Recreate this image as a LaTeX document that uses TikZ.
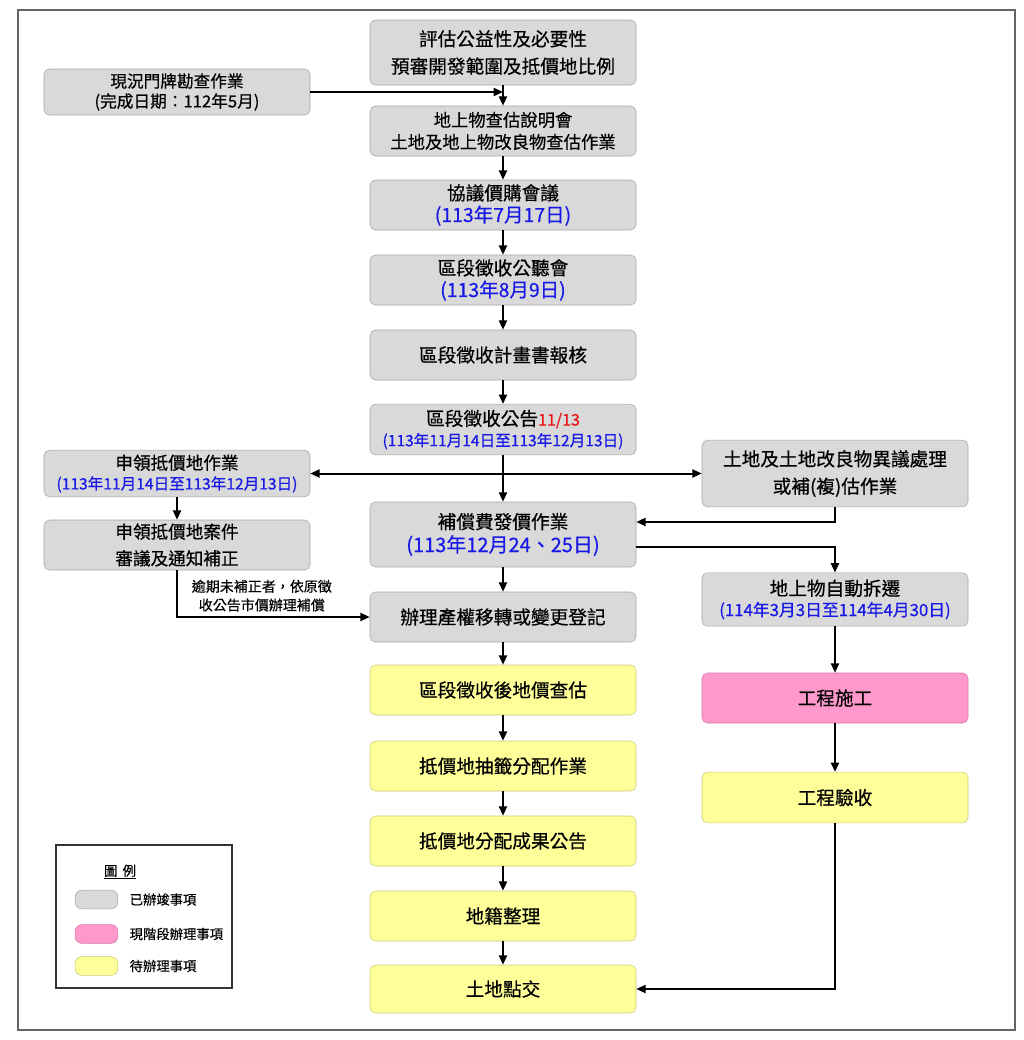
\documentclass[tikz,border=0pt]{standalone}
\usepackage{fontspec}
\newfontfamily\cjktc[FakeBold=0.5]{Noto Sans CJK TC}
\usetikzlibrary{arrows.meta}
\definecolor{donegray}{RGB}{217,217,217}
\definecolor{doneline}{RGB}{165,165,165}
\definecolor{nowpink}{RGB}{255,153,204}
\definecolor{nowline}{RGB}{215,120,170}
\definecolor{todoyellow}{RGB}{255,255,153}
\definecolor{todoline}{RGB}{200,200,120}
\definecolor{dateblue}{RGB}{25,25,230}
\definecolor{notered}{RGB}{230,20,20}
\newcommand{\bigdate}[1]{{\color{dateblue}\fontsize{14.6}{17}\selectfont #1}}
\newcommand{\smalldate}[2][11.7]{{\color{dateblue}\fontsize{#1}{14}\selectfont #2}}

\begin{document}
\begin{tikzpicture}[x=0.75pt, y=-0.75pt, >={Stealth[length=7pt,width=6pt,inset=0pt]},
    every node/.style={font=\cjktc\fontsize{14}{20.5}\selectfont},
    box/.style={rounded corners=4pt, minimum width=199.5pt, align=center, inner sep=1pt},
    done/.style={box, draw=doneline, fill=donegray},
    now/.style={box, draw=nowline, fill=nowpink},
    todo/.style={box, draw=todoline, fill=todoyellow},
    side/.style={font=\cjktc\fontsize{13.2}{20}\selectfont},
    flow/.style={->, line width=1.5pt},
    swatch/.style={rounded corners=5pt, minimum width=32pt, minimum height=14pt, inner sep=0pt},
    legtext/.style={right, font=\cjktc\fontsize{10}{12}\selectfont}]
    \useasboundingbox (0,0) rectangle (1024,1040);
    \draw[line width=1.1pt, black!60] (18,10) rectangle (1015,1030);

    % main column
    \node[done, minimum height=48.75pt] (eval) at (503,52.5) {評估公益性及必要性\\預審開發範圍及抵價地比例};
    \node[done, minimum height=37.5pt, font=\cjktc\fontsize{13}{16.5}\selectfont] (survey) at (503,131) {地上物查估說明會\\土地及地上物改良物查估作業};
    \node[done, minimum height=37.5pt] (nego) at (503,205) {協議價購會議\\[-4pt]\bigdate{(113年7月17日)}};
    \node[done, minimum height=37.5pt] (hearing) at (503,280) {區段徵收公聽會\\[-4pt]\bigdate{(113年8月9日)}};
    \node[done, minimum height=37.5pt] (plan) at (503,355) {區段徵收計畫書報核};
    \node[done, minimum height=38pt] (notice) at (503,429.5) {區段徵收公告{\color{notered}\fontsize{12}{13}\selectfont 11/13}\\[-5pt]\smalldate{(113年11月14日至113年12月13日)}};
    \node[done, minimum height=48.75pt] (comp) at (503,534.5) {補償費發價作業\\[-3pt]{\color{dateblue}\fontsize{15}{18}\selectfont (113年12月24、25日)}};
    \node[done, minimum height=37.5pt] (transfer) at (503,617) {辦理產權移轉或變更登記};
    \node[todo, minimum height=37.5pt] (reprice) at (503,690) {區段徵收後地價查估};
    \node[todo, minimum height=37.5pt] (lottery) at (503,766) {抵價地抽籤分配作業};
    \node[todo, minimum height=37.5pt] (result) at (503,841) {抵價地分配成果公告};
    \node[todo, minimum height=37.5pt] (cadastre) at (503,916) {地籍整理};
    \node[todo, minimum height=36pt] (handover) at (503,989) {土地點交};

    % left column
    \node[done, minimum height=34.5pt, font=\cjktc\fontsize{12.5}{19}\selectfont] (plate) at (177,92) {現況門牌勘查作業\\[-4pt](完成日期：112年5月)};
    \node[done, side, minimum height=35pt] (claim) at (177,473.5) {申領抵價地作業\\[-5pt]\smalldate{(113年11月14日至113年12月13日)}};
    \node[done, side, minimum height=37.5pt] (case) at (177,545) {申領抵價地案件\\審議及通知補正};

    % right column
    \node[done, minimum height=50pt] (objection) at (835,473.5) {土地及土地改良物異議處理\\或補(複)估作業};
    \node[done, minimum height=40pt] (demolish) at (835,599.5) {地上物自動拆遷\\[-5pt]\smalldate[12.6]{(114年3月3日至114年4月30日)}};
    \node[now, minimum height=37.5pt] (build) at (835,698) {工程施工};
    \node[todo, minimum height=38pt] (accept) at (835,797.5) {工程驗收};

    % connectors
    \draw[flow] (eval) -- (survey);
    \draw[flow] (plate.east) -- (plate.east -| eval.south);
    \draw[flow] (survey) -- (nego);
    \draw[flow] (nego) -- (hearing);
    \draw[flow] (hearing) -- (plan);
    \draw[flow] (plan) -- (notice);
    \draw[flow] (notice) -- (comp);
    \draw[flow, <->] (claim.east) -- (objection.west);
    \draw[flow] (objection.south) |- ([yshift=9.4pt]comp.east);
    \draw[flow] ([yshift=-9.4pt]comp.east) -| (demolish.north);
    \draw[flow] (claim) -- (case);
    \draw[flow] (case.south) |- (transfer.west)
        node[pos=0.72, above, align=center, font=\cjktc\fontsize{10.5}{14}\selectfont] {逾期未補正者，依原徵\\收公告市價辦理補償};
    \draw[flow] (comp) -- (transfer);
    \draw[flow] (transfer) -- (reprice);
    \draw[flow] (reprice) -- (lottery);
    \draw[flow] (lottery) -- (result);
    \draw[flow] (result) -- (cadastre);
    \draw[flow] (cadastre) -- (handover);
    \draw[flow] (demolish) -- (build);
    \draw[flow] (build) -- (accept);
    \draw[flow] (accept.south) |- (handover.east);

    % legend
    \draw[line width=0.8pt, black!80] (56,845) rectangle (232,988);
    \node[font=\cjktc\fontsize{10}{12}\selectfont] (legtitle) at (120,872) {\underline{圖\hspace{4pt}例}};
    \node[swatch, draw=doneline, fill=donegray] (legdone) at (96.5,899.5) {};
    \node[swatch, draw=nowline, fill=nowpink] (legnow) at (96.5,934) {};
    \node[swatch, draw=todoline, fill=todoyellow] (legtodo) at (96.5,966) {};
    \node[legtext] at (125,899.5) {已辦竣事項};
    \node[legtext] at (125,934) {現階段辦理事項};
    \node[legtext] at (125,966) {待辦理事項};
\end{tikzpicture}
\end{document}
